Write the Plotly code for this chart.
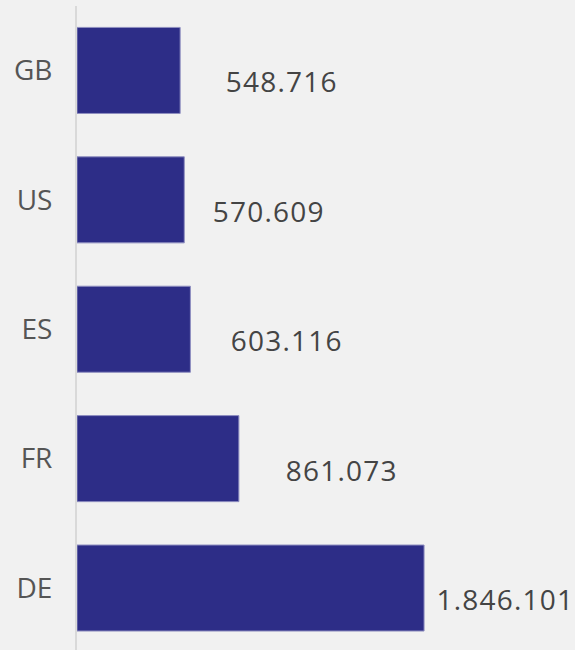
import plotly.graph_objects as go

countries = ["DE", "FR", "ES", "US", "GB"]
visits = [1846101, 861073, 603116, 570609, 548716]
labels = ["1.846.101", "861.073", "603.116", "570.609", "548.716"]

# label offsets from bar end (px), as in the reference
label_dx = [16, 49, 43, 31, 48]

BAR = "#2d2d87"
BG = "#f1f1f1"
FONT = "Open Sans"

fig = go.Figure(go.Bar(
    y=countries,
    x=visits,
    orientation="h",
    marker=dict(color=BAR, line=dict(color="#8f8fc0", width=1)),
    width=0.665,
    hoverinfo="skip",
))

for c, v, t, dx in zip(countries, visits, labels, label_dx):
    fig.add_annotation(
        x=v, y=c, text=t, showarrow=False,
        xanchor="left", yanchor="middle",
        xshift=dx, yshift=-11,
        font=dict(family=FONT, size=28, color="#444444"),
    )

fig.update_layout(
    width=575, height=650,
    paper_bgcolor=BG, plot_bgcolor=BG,
    margin=dict(l=77, r=0, t=6, b=0),
    showlegend=False,
    font=dict(family=FONT, size=28, color="#555555"),
    xaxis=dict(visible=False, range=[0, 2649000]),
    yaxis=dict(
        range=[-0.479, 4.498],
        showline=True, linecolor="#d9d9d9", linewidth=2,
        showgrid=False, zeroline=False,
        ticks="", ticklabelstandoff=17,
    ),
)

# the value labels in the reference are slightly letter-spaced
css = """
document.body.style.margin = '0';
document.querySelectorAll('text.annotation-text').forEach(function (el) {
    el.style.letterSpacing = '1.2px';
});
"""

fig.write_html("out.html", config={"displayModeBar": False}, post_script=css)
